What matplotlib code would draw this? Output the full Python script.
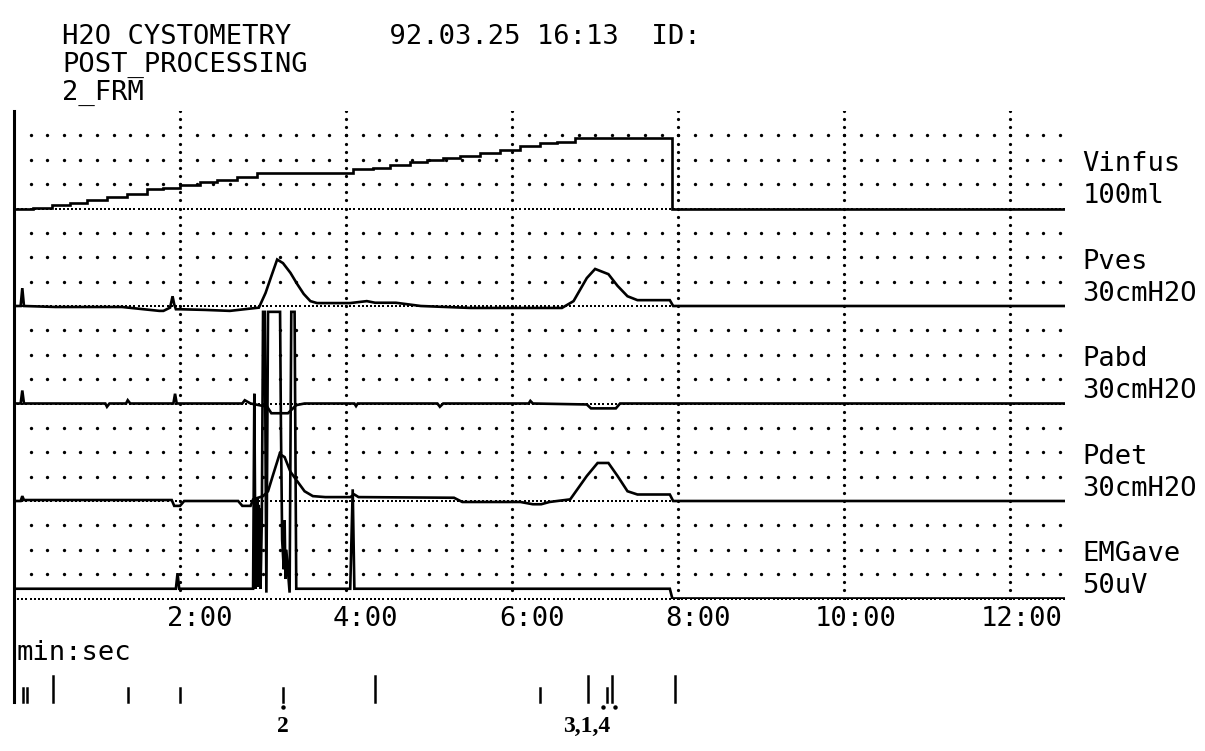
import numpy as np
import matplotlib
matplotlib.use("Agg")
import matplotlib.pyplot as plt

# Traces, time in minutes
vinfus_t = [0.0, 0.23, 0.46, 0.67, 0.88, 1.12, 1.36, 1.60, 1.80, 2.00, 2.24, 2.45, 2.69, 2.93,
            3.05, 3.96, 4.08, 4.33, 4.53, 4.77, 4.98, 5.17, 5.37, 5.61, 5.86, 6.10, 6.34,
            6.54, 6.76, 7.92, 7.93, 12.66]
vinfus_ml = [0, 1, 4, 6, 9, 12, 15, 19.5, 21.5, 24.6, 26.7, 29.7, 32.8, 35.9,
             36.9, 36.9, 40, 42, 45, 48, 50, 52, 54, 57, 60.5, 63.6, 66.7,
             68.7, 71.8, 71.8, 0, 0]

pves_t = [0, 0.08, 0.10, 0.12, 0.5, 1.3, 1.75, 1.80, 1.88, 1.91, 1.93, 1.95, 2.0, 2.3, 2.6,
          2.95, 3.03, 3.1, 3.17, 3.24, 3.33, 3.41, 3.49, 3.57, 3.65, 4.05, 4.25, 4.35, 4.6,
          4.9, 5.5, 6.1, 6.6, 6.74, 6.9, 7.0, 7.06, 7.16, 7.27, 7.39, 7.51, 7.9, 7.94, 12.66]
pves_cm = [0, 0, 5.5, 0, -0.3, -0.3, -1.5, -1.5, -0.5, 3.0, 0.5, -1, -1, -1.2, -1.5,
           -0.5, 4, 9.2, 14.3, 13.2, 10.2, 6.8, 3.7, 1.5, 0.9, 0.9, 1.5, 1.0, 1.0,
           0, -0.6, -0.6, -0.6, 1.5, 8.6, 11.4, 10.8, 9.8, 6.2, 3, 1.8, 1.8, 0, 0]

pabd_t = [0, 0.08, 0.10, 0.12, 1.1, 1.12, 1.15, 1.35, 1.37, 1.4, 1.92, 1.94, 1.96, 2.75,
          2.78, 2.85, 3.05, 3.1, 3.3, 3.4, 3.5, 4.1, 4.12, 4.14, 5.1, 5.13, 5.17, 6.2,
          6.22, 6.25, 6.9, 6.95, 7.25, 7.3, 12.66]
pabd_cm = [0, 0, 4, 0, 0, -1, 0, 0, 1, 0, 0, 3, 0, 0,
           1, 0, -1, -3, -3, -0.5, 0, 0, -0.8, 0, 0, -1, 0, 0,
           0.8, 0, -0.3, -1.5, -1.5, 0, 0]

pdet_t = [0, 0.08, 0.10, 0.12, 1.0, 1.9, 1.93, 2.0, 2.05, 2.7, 2.75, 2.85, 2.88, 3.0, 3.06,
          3.12, 3.2, 3.26, 3.33, 3.4, 3.5, 3.6, 3.75, 4.05, 4.1, 4.15, 5.3, 5.4, 6.1,
          6.25, 6.35, 6.45, 6.7, 6.9, 7.03, 7.16, 7.27, 7.39, 7.51, 7.9, 7.94, 12.66]
pdet_cm = [0, 0, 1.5, 0.3, 0.3, 0.3, -1.5, -1.5, 0, 0, -1.5, -1.5, 0.5, 1.5, 3,
           8, 14.5, 13.5, 9, 6.5, 3, 1.5, 1.2, 1.2, 2, 1.2, 1, -0.3, -0.3,
           -1, -1, -0.3, 0.5, 7.7, 11.7, 11.7, 7.7, 3, 2, 2, 0, 0]

emg_t = [0, 1.95, 1.97, 1.99, 2.88, 2.895, 2.91, 2.92, 2.927, 2.934,
         2.941, 2.948, 2.955, 2.962, 2.97, 2.985, 3.0, 3.02, 3.04, 3.06,
         3.205, 3.215, 3.23, 3.25, 3.26, 3.27, 3.28, 3.32, 3.34, 3.38,
         3.40, 4.05, 4.08, 4.10, 7.9, 7.93, 12.66]
emg_uv = [5, 5, 13, 5, 5, 105, 5, 50, 8, 52,
          6, 48, 7, 46, 5, 40, 147, 147, 3, 147,
          147, 90, 30, 15, 40, 10, 25, 3, 147, 147,
          5, 5, 56, 5, 5, 0, 0]

# name, unit label, full scale, stacking slot (0 = bottom)
channels = [
    ("Vinfus", "100ml", 100, 4, vinfus_t, vinfus_ml, "steps-post"),
    ("Pves", "30cmH2O", 30, 3, pves_t, pves_cm, "default"),
    ("Pabd", "30cmH2O", 30, 2, pabd_t, pabd_cm, "default"),
    ("Pdet", "30cmH2O", 30, 1, pdet_t, pdet_cm, "default"),
    ("EMGave", "50uV", 50, 0, emg_t, emg_uv, "default"),
]

minute_ticks = [2, 4, 6, 8, 10, 12]
tick_labels = ["2:00", "4:00", "6:00", "8:00", "10:00", "12:00"]

# event marks under the time axis
event_t = [0.11, 0.16, 0.47, 1.37, 2.0, 3.24, 4.35, 6.33, 6.92, 7.14, 7.20, 7.96]
event_tall = [0, 0, 1, 0, 0, 0, 1, 0, 1, 0, 1, 1]
event_dot_t = [3.24, 7.09, 7.24]
event_names = ["2", "3,1,4"]
event_name_t = [3.24, 6.9]

T_END = 12.66
MONO = "DejaVu Sans Mono"
FS = 19.5

fig = plt.figure(figsize=(12.05, 7.51), dpi=100)
ax = fig.add_axes([14 / 1205, 152.5 / 751, (1065 - 14) / 1205, 487.5 / 751])
ax.set_xlim(0, T_END)
ax.set_ylim(0, 5)
ax.axis("off")

# dotted grid: three rows per channel, dense baseline, minute lines
row_x = np.arange(0.2, T_END, 0.2)
base_x = np.arange(0.05, T_END, 0.05)
for slot in range(5):
    for frac in (0.25, 0.5, 0.75):
        ax.plot(row_x, np.full_like(row_x, slot + frac), ls="", marker="o",
                ms=2.4, mew=0, color="black")
    ax.plot(base_x, np.full_like(base_x, slot), ls="", marker="s",
            ms=1.7, mew=0, color="black")
vy = np.arange(0, 5.01, 1 / 12)
for m in minute_ticks:
    ax.plot(np.full_like(vy, m), vy, ls="", marker="o", ms=2.3, mew=0, color="black")

# traces, scaled so full scale fills one slot
for name, unit, scale, slot, t, v, ds in channels:
    y = slot + np.asarray(v, dtype=float) / scale
    ax.plot(t, y, color="black", lw=1.9, drawstyle=ds, solid_joinstyle="miter")
    ax.text(12.87, slot + 0.38, name, family=MONO, fontsize=FS, va="baseline",
            ha="left", clip_on=False)
    ax.text(12.87, slot + 0.055, unit, family=MONO, fontsize=FS, va="baseline",
            ha="left", clip_on=False)

# left edge line runs down through the event row
ax.plot([0, 0], [5, -1.06], color="black", lw=2.2, clip_on=False)

for m, lab in zip(minute_ticks, tick_labels):
    ax.text(m + 0.63, -0.282, lab, family=MONO, fontsize=FS, ha="right",
            va="baseline", clip_on=False)
ax.text(0.03, -0.631, "min:sec", family=MONO, fontsize=FS, ha="left",
        va="baseline", clip_on=False)

# event marks
for t, tall in zip(event_t, event_tall):
    top = -0.795 if tall else -0.92
    ax.plot([t, t], [top, -1.06], color="black", lw=1.8, clip_on=False)
ax.plot(event_dot_t, [-1.11] * len(event_dot_t), ls="", marker="o", ms=2.2,
        color="black", clip_on=False)
for lab, t in zip(event_names, event_name_t):
    ax.text(t, -1.37, lab, family="Liberation Serif", fontweight="bold",
            fontsize=17, ha="center", va="baseline", clip_on=False)

# header
fig.text(62 / 1205, 1 - 44 / 751, "H2O CYSTOMETRY      92.03.25 16:13  ID:",
         family=MONO, fontsize=FS, va="baseline")
fig.text(62 / 1205, 1 - 72 / 751, "POST_PROCESSING", family=MONO, fontsize=FS,
         va="baseline")
fig.text(62 / 1205, 1 - 100 / 751, "2_FRM", family=MONO, fontsize=FS, va="baseline")

fig.savefig("out.png", dpi=100, facecolor="white")
